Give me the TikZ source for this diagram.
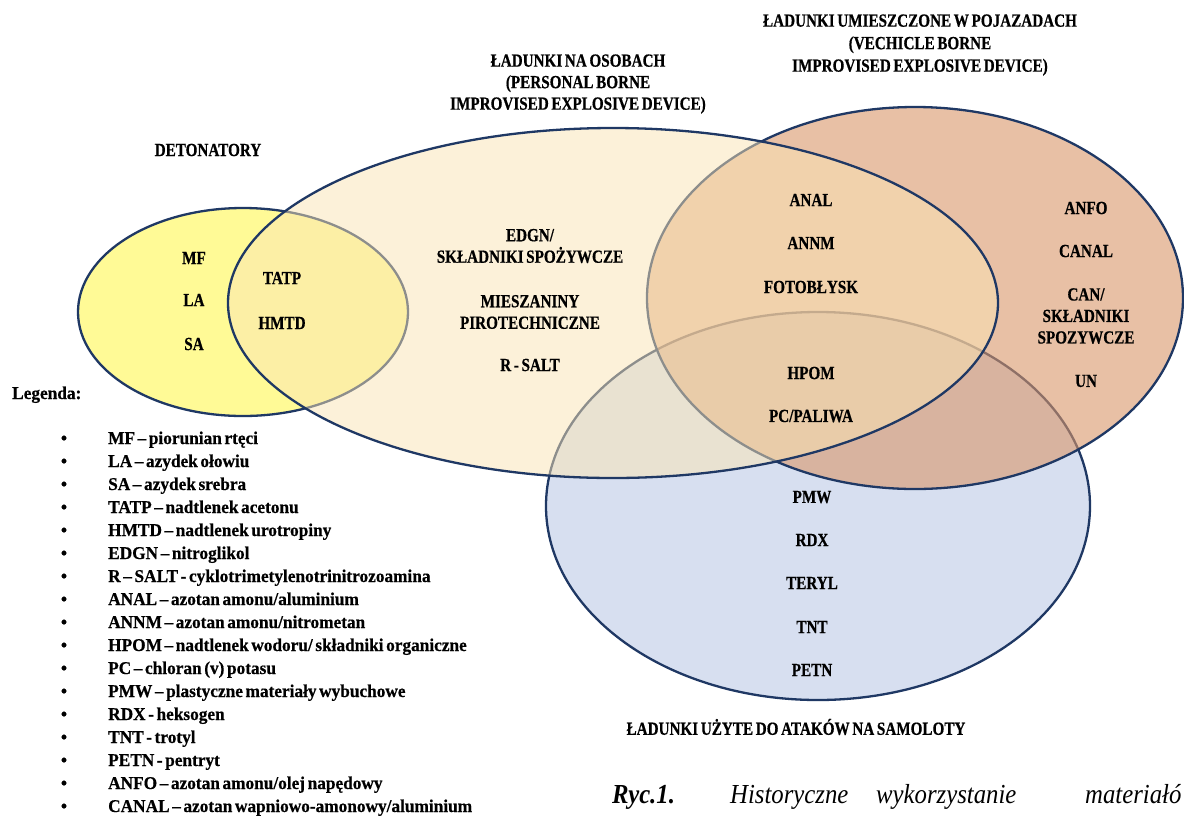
\documentclass[tikz,border=0pt]{standalone}
\usepackage{fontspec}
\setmainfont{Liberation Serif}
\newfontfamily\lblfont{Liberation Serif}[FakeStretch=0.82,WordSpace=0.7,FakeBold=0.6]
\newfontfamily\legfont{Liberation Serif}[FakeStretch=0.96,WordSpace=0.6,FakeBold=0.5]
\newfontfamily\capfont{Liberation Serif}[FakeStretch=0.9]
\definecolor{navy}{RGB}{31,56,100}
\definecolor{yel}{RGB}{255,250,150}
\definecolor{blu}{RGB}{215,223,240}
\definecolor{veh}{RGB}{217,150,105}
\definecolor{per}{RGB}{251,229,180}
\begin{document}
\begin{tikzpicture}[x=1pt,y=-1pt,
  setline/.style={draw=navy, line width=2.3pt},
  lbl/.style={font=\lblfont\bfseries\fontsize{18.5}{21.5}\selectfont, align=center, inner sep=0pt, text=black},
  leg/.style={font=\legfont\bfseries\fontsize{18}{20}\selectfont, anchor=base west, inner sep=0pt},
  bul/.style={font=\legfont\bfseries\fontsize{18}{20}\selectfont, anchor=base, inner sep=0pt},
  capt/.style={font=\capfont\itshape\fontsize{27.5}{30}\selectfont, anchor=base west, inner sep=0pt}]
\useasboundingbox (0,0) rectangle (1184,815);
\fill[white] (0,0) rectangle (1184,815);
% ellipses
\draw[setline, fill=yel] (243,312) ellipse [x radius=165, y radius=104];
\draw[setline, fill=blu] (818,506) ellipse [x radius=272, y radius=194];
\draw[setline, fill=veh, fill opacity=0.6] (915,298) ellipse [x radius=268, y radius=191];
\draw[setline, fill=per, fill opacity=0.5] (613,303) ellipse [x radius=385, y radius=175];
% titles
\node[lbl] (ptitle) at (578,84) {ŁADUNKI NA OSOBACH\\(PERSONAL BORNE\\IMPROVISED EXPLOSIVE DEVICE)};
\node[lbl, font=\lblfont\bfseries\fontsize{18.5}{22.5}\selectfont] (vtitle) at (920,45) {ŁADUNKI UMIESZCZONE W POJAZADACH\\(VECHICLE BORNE\\IMPROVISED EXPLOSIVE DEVICE)};
\node[lbl] (det) at (208,150) {DETONATORY};
\node[lbl] (samol) at (796,727) {ŁADUNKI UŻYTE DO ATAKÓW NA SAMOLOTY};
% detonatory
\node[lbl] (mf) at (194,258) {MF};
\node[lbl] (la) at (194,300) {LA};
\node[lbl] (sa) at (194,344) {SA};
\node[lbl] (tatp) at (282,278) {TATP};
\node[lbl] (hmtd) at (282,323) {HMTD};
% personal
\node[lbl] (edgn) at (530,246) {EDGN/\\SKŁADNIKI SPOŻYWCZE};
\node[lbl] (miesz) at (530,312) {MIESZANINY\\PIROTECHNICZNE};
\node[lbl] (rsalt) at (530,365) {R - SALT};
% personal & vehicle
\node[lbl] (anal) at (811,200) {ANAL};
\node[lbl] (annm) at (811,243) {ANNM};
\node[lbl] (foto) at (811,287) {FOTOBŁYSK};
\node[lbl] (hpom) at (811,373) {HPOM};
\node[lbl] (pc) at (811,416) {PC/PALIWA};
% vehicle
\node[lbl] (anfo) at (1086,208) {ANFO};
\node[lbl] (canal) at (1086,251) {CANAL};
\node[lbl] (can) at (1086,316) {CAN/\\SKŁADNIKI\\SPOZYWCZE};
\node[lbl] (un) at (1086,381) {UN};
% blue
\node[lbl] (pmw) at (812,497) {PMW};
\node[lbl] (rdx) at (812,540) {RDX};
\node[lbl] (teryl) at (812,583) {TERYL};
\node[lbl] (tnt) at (812,627) {TNT};
\node[lbl] (petn) at (812,670) {PETN};
% legend
\node[leg] (legenda) at (12,399) {Legenda:};
\foreach \t [count=\i] in {
  {MF – piorunian rtęci},
  {LA – azydek ołowiu},
  {SA – azydek srebra},
  {TATP – nadtlenek acetonu},
  {HMTD – nadtlenek urotropiny},
  {EDGN – nitroglikol},
  {R – SALT - cyklotrimetylenotrinitrozoamina},
  {ANAL – azotan amonu/aluminium},
  {ANNM – azotan amonu/nitrometan},
  {HPOM – nadtlenek wodoru/ składniki organiczne},
  {PC – chloran (v) potasu},
  {PMW – plastyczne materiały wybuchowe},
  {RDX - heksogen},
  {TNT - trotyl},
  {PETN - pentryt},
  {ANFO – azotan amonu/olej napędowy},
  {CANAL – azotan wapniowo-amonowy/aluminium}} {
  \node[bul] (b\i) at (64,{421+23*\i}) {\textbullet};
  \node[leg] (l\i) at (108,{421+23*\i}) {\t};
}
% caption
\node[capt, font=\capfont\bfseries\itshape\fontsize{27.5}{30}\selectfont] (ryc) at (612,803) {Ryc.1.};
\node[capt] (c1) at (730,803) {Historyczne};
\node[capt] (c2) at (876,803) {wykorzystanie};
\node[capt] (c3) at (1085,803) {materiałó};
\end{tikzpicture}
\end{document}
